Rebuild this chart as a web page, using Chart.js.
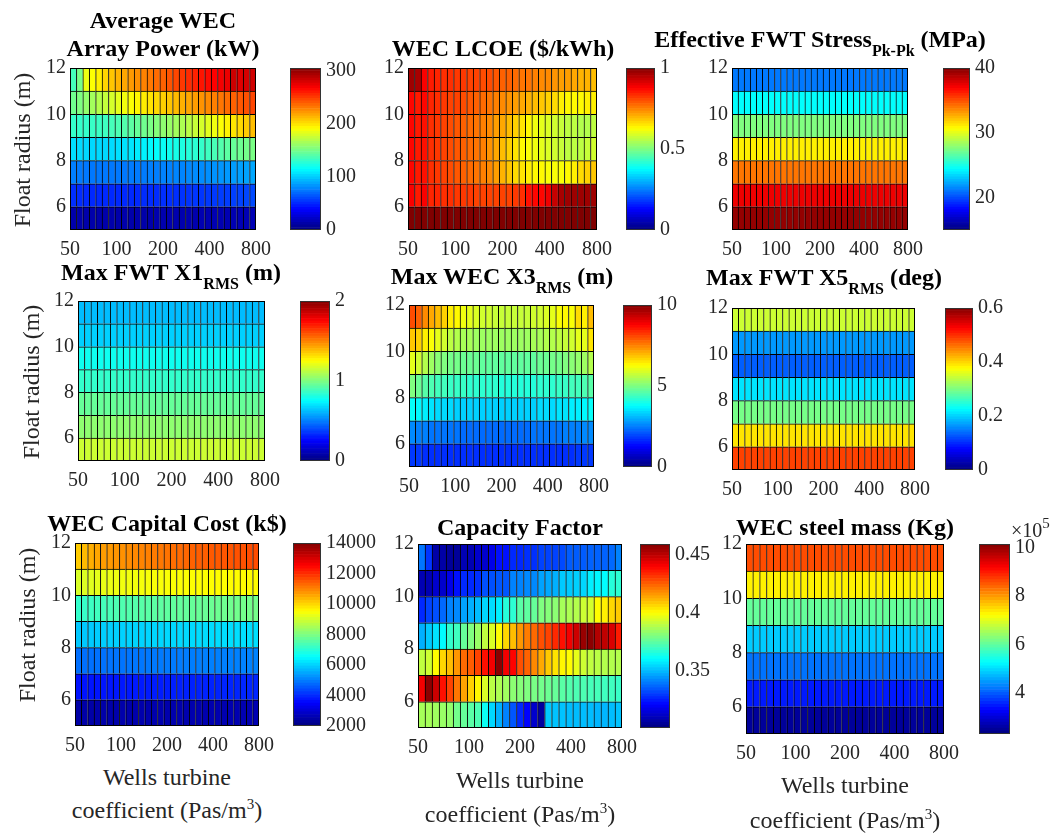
<!DOCTYPE html>
<html>
<head>
<meta charset="utf-8">
<script src="https://cdn.jsdelivr.net/npm/chart.js@4.4.1/dist/chart.umd.min.js"></script>
<style>
  body { margin: 0; background: #fff; }
  #fig { position: relative; width: 1057px; height: 833px; overflow: hidden; font-family: "Liberation Serif", "Times New Roman", serif; }
  .box { position: absolute; }
  .title { position: absolute; transform: translate(-50%, -50%); font-weight: bold; font-size: 24px; line-height: 28px; color: #000; white-space: nowrap; text-align: center; }
  .title .sub { font-size: 16px; position: relative; top: 9px; }
  .ylab { position: absolute; transform: translate(-50%, -50%) rotate(-90deg); font-size: 24px; line-height: 28px; color: #262626; white-space: nowrap; }
  .xlab { position: absolute; transform: translate(-50%, -50%); font-size: 24px; line-height: 28px; color: #262626; white-space: nowrap; }
  .xlab .sup, .expo .sup { font-size: 15px; position: relative; top: -9px; }
  .expo { position: absolute; transform: translateY(-50%); font-size: 20px; color: #262626; white-space: nowrap; }
</style>
</head>
<body>
<div id="fig"></div>
<script>
// cell edges: Wells turbine coefficient (log spaced) and float radius (m)
const coeffEdges = [50, 55.0, 60.5, 66.6, 73.3, 80.6, 88.7, 97.6, 107.4, 118.2, 130.1, 143.1, 157.5, 173.3, 190.7,
    209.8, 230.8, 254.0, 279.5, 307.5, 338.4, 372.3, 409.7, 450.8, 496.0, 545.8, 600.5, 660.8, 727.0, 800];
const radiusEdges = [5, 6, 7, 8, 9, 10, 11, 12];
const coeffTicks = [50, 100, 200, 400, 800];
const radiusTicks = [6, 8, 10, 12];

// rows go from float radius 5-6 m (first) up to 11-12 m (last)
const powerKW = [
    [13, 13, 13, 13, 13, 13, 13, 13, 13, 13, 13, 13, 13, 14, 14, 14, 14, 14, 14, 14, 15, 15, 15, 15, 15, 15, 16, 16, 16],
    [52, 51, 50, 50, 50, 50, 50, 50, 50, 50, 50, 51, 51, 51, 52, 52, 52, 53, 53, 54, 54, 55, 55, 56, 56, 57, 58, 59, 60],
    [76, 75, 74, 74, 74, 74, 74, 74, 74, 75, 75, 75, 76, 76, 77, 77, 78, 78, 79, 80, 80, 81, 82, 83, 84, 85, 86, 87, 88],
    [105, 104, 103, 103, 103, 103, 104, 105, 106, 107, 109, 111, 113, 115, 117, 119, 121, 123, 125, 127, 130, 133, 136, 139, 142, 145, 147, 149, 151],
    [130, 130, 130, 131, 132, 133, 135, 137, 139, 142, 145, 148, 151, 154, 157, 160, 163, 166, 170, 174, 178, 182, 186, 190, 194, 198, 202, 206, 210],
    [148, 152, 158, 163, 168, 173, 178, 183, 187, 190, 193, 196, 199, 202, 205, 208, 211, 214, 217, 220, 223, 226, 229, 232, 235, 238, 241, 243, 246],
    [135, 150, 185, 190, 195, 203, 208, 213, 217, 221, 224, 228, 231, 235, 238, 242, 246, 250, 254, 257, 261, 264, 267, 270, 273, 282, 276, 279, 281]
];
const powerRange = [0, 305];
const powerTicks = [0, 100, 200, 300];

const lcoe = [
    [1, 1, 1, 1, 1, 1, 1, 1, 1, 1, 1, 1, 1, 1, 1, 1, 1, 1, 1, 1, 1, 1, 1, 1, 1, 1, 1, 1, 1],
    [0.88, 0.85, 0.88, 0.84, 0.84, 0.83, 0.83, 0.82, 0.82, 0.82, 0.81, 0.81, 0.81, 0.81, 0.81, 0.81, 0.82, 0.83, 0.86, 0.87, 0.87, 0.89, 0.93, 0.96, 0.97, 0.97, 0.97, 0.97, 0.97],
    [0.87, 0.85, 0.86, 0.83, 0.82, 0.81, 0.80, 0.79, 0.78, 0.77, 0.76, 0.75, 0.74, 0.72, 0.70, 0.68, 0.66, 0.65, 0.64, 0.63, 0.63, 0.62, 0.62, 0.62, 0.63, 0.64, 0.66, 0.67, 0.68],
    [0.87, 0.85, 0.86, 0.83, 0.82, 0.81, 0.80, 0.79, 0.78, 0.77, 0.76, 0.75, 0.73, 0.71, 0.69, 0.67, 0.65, 0.63, 0.62, 0.61, 0.60, 0.59, 0.58, 0.57, 0.56, 0.56, 0.56, 0.57, 0.58],
    [0.87, 0.85, 0.86, 0.83, 0.82, 0.81, 0.80, 0.79, 0.78, 0.77, 0.76, 0.75, 0.74, 0.72, 0.71, 0.69, 0.67, 0.65, 0.63, 0.61, 0.60, 0.59, 0.58, 0.57, 0.56, 0.56, 0.55, 0.55, 0.56],
    [0.87, 0.85, 0.87, 0.84, 0.83, 0.82, 0.81, 0.81, 0.80, 0.79, 0.78, 0.77, 0.76, 0.75, 0.74, 0.73, 0.72, 0.71, 0.70, 0.69, 0.68, 0.67, 0.66, 0.64, 0.63, 0.63, 0.63, 0.64, 0.64],
    [0.97, 0.96, 0.88, 0.85, 0.84, 0.83, 0.83, 0.82, 0.82, 0.81, 0.81, 0.80, 0.80, 0.79, 0.78, 0.78, 0.77, 0.76, 0.76, 0.75, 0.74, 0.74, 0.73, 0.72, 0.72, 0.71, 0.70, 0.70, 0.69]
];
const lcoeRange = [0, 1];
const lcoeTicks = [0, 0.5, 1];

// these quantities do not change with the turbine coefficient: one value per row
const stressRows = [39.5, 37.3, 34, 31, 27.5, 24.4, 21.1];
const stressRange = [15, 40];
const stressTicks = [20, 30, 40];

const x1Rows = [1.15, 1.03, 0.95, 0.85, 0.78, 0.66, 0.62];
const x1Range = [0, 2];
const x1Ticks = [0, 1, 2];

const x3RMS = [
    [1.8, 1.8, 1.7, 1.7, 1.7, 1.7, 1.7, 1.7, 1.7, 1.7, 1.7, 1.7, 1.7, 1.7, 1.7, 1.7, 1.7, 1.7, 1.7, 1.7, 1.7, 1.7, 1.7, 1.7, 1.7, 1.7, 1.8, 1.8, 1.8],
    [2.6, 2.5, 2.5, 2.4, 2.4, 2.4, 2.4, 2.4, 2.3, 2.3, 2.3, 2.3, 2.3, 2.3, 2.3, 2.3, 2.3, 2.3, 2.3, 2.4, 2.4, 2.4, 2.4, 2.4, 2.5, 2.5, 2.5, 2.6, 2.6],
    [3.8, 3.7, 3.6, 3.5, 3.4, 3.4, 3.4, 3.3, 3.3, 3.3, 3.3, 3.3, 3.3, 3.3, 3.3, 3.3, 3.3, 3.3, 3.3, 3.3, 3.4, 3.4, 3.4, 3.5, 3.5, 3.6, 3.6, 3.7, 3.8],
    [5.0, 4.8, 4.6, 4.5, 4.4, 4.4, 4.3, 4.3, 4.3, 4.2, 4.2, 4.2, 4.2, 4.2, 4.1, 4.1, 4.1, 4.1, 4.1, 4.1, 4.2, 4.2, 4.2, 4.3, 4.3, 4.4, 4.4, 4.5, 4.6],
    [6.0, 5.8, 5.5, 5.3, 5.1, 5.0, 4.9, 4.9, 4.8, 4.8, 4.8, 4.7, 4.7, 4.7, 4.7, 4.7, 4.7, 4.7, 4.7, 4.7, 4.8, 4.8, 4.9, 4.9, 5.0, 5.1, 5.2, 5.3, 5.5],
    [6.8, 6.7, 6.4, 6.2, 6.0, 5.8, 5.6, 5.5, 5.4, 5.4, 5.3, 5.3, 5.3, 5.3, 5.3, 5.3, 5.3, 5.3, 5.3, 5.4, 5.4, 5.5, 5.5, 5.6, 5.7, 5.8, 6.0, 6.0, 6.5],
    [8.0, 7.8, 7.4, 7.1, 6.9, 6.7, 6.4, 6.3, 6.1, 6.0, 5.9, 5.8, 5.8, 5.7, 5.7, 5.7, 5.7, 5.7, 5.7, 5.8, 5.8, 5.9, 6.0, 6.2, 6.3, 6.2, 6.6, 6.4, 6.9]
];
const x3Range = [0, 10];
const x3Ticks = [0, 5, 10];

const x5Rows = [0.487, 0.39, 0.295, 0.21, 0.13, 0.165, 0.345];
const x5Range = [0, 0.6];
const x5Ticks = [0, 0.2, 0.4, 0.6];

const capCost = [
    [2450, 2460, 2470, 2480, 2490, 2500, 2500, 2510, 2510, 2520, 2520, 2530, 2530, 2540, 2540, 2540, 2550, 2550, 2550, 2560, 2560, 2560, 2570, 2570, 2570, 2580, 2580, 2580, 2590],
    [3700, 3710, 3720, 3730, 3740, 3750, 3760, 3770, 3780, 3790, 3800, 3810, 3820, 3830, 3840, 3850, 3860, 3870, 3880, 3890, 3900, 3900, 3910, 3910, 3920, 3920, 3930, 3930, 3940],
    [4800, 4810, 4820, 4830, 4840, 4850, 4860, 4870, 4880, 4890, 4900, 4910, 4920, 4930, 4940, 4950, 4960, 4970, 4980, 4990, 5000, 5000, 5010, 5010, 5020, 5020, 5030, 5030, 5040],
    [5850, 5870, 5890, 5910, 5930, 5950, 5960, 5970, 5980, 5990, 6000, 6010, 6020, 6030, 6040, 6050, 6060, 6070, 6080, 6090, 6100, 6100, 6110, 6110, 6120, 6120, 6130, 6130, 6140],
    [7100, 7150, 7200, 7250, 7300, 7350, 7400, 7430, 7460, 7490, 7520, 7550, 7580, 7600, 7620, 7640, 7660, 7680, 7700, 7720, 7740, 7760, 7780, 7800, 7820, 7840, 7850, 7870, 7880],
    [9050, 9100, 9150, 9200, 9250, 9280, 9300, 9330, 9350, 9370, 9390, 9400, 9420, 9430, 9440, 9450, 9460, 9470, 9480, 9490, 9500, 9500, 9510, 9510, 9520, 9520, 9530, 9530, 9540],
    [10100, 10300, 10450, 10550, 10650, 10700, 10750, 10800, 10850, 10900, 10950, 11000, 11050, 11100, 11150, 11200, 11250, 11300, 11350, 11400, 11400, 11450, 11450, 11500, 11500, 11550, 11550, 11600, 11600]
];
const capRange = [2000, 14000];
const capTicks = [2000, 4000, 6000, 8000, 10000, 12000, 14000];

const capFactor = [
    [0.386, 0.386, 0.385, 0.384, 0.383, 0.378, 0.376, 0.374, 0.372, 0.362, 0.354, 0.348, 0.341, 0.334, 0.327, 0.321, 0.313, 0.306, 0.352, 0.351, 0.351, 0.350, 0.350, 0.350, 0.350, 0.349, 0.349, 0.350, 0.351],
    [0.441, 0.457, 0.447, 0.437, 0.429, 0.421, 0.414, 0.407, 0.401, 0.394, 0.389, 0.387, 0.385, 0.382, 0.381, 0.380, 0.379, 0.378, 0.377, 0.376, 0.374, 0.373, 0.372, 0.372, 0.371, 0.371, 0.370, 0.370, 0.369],
    [0.390, 0.392, 0.400, 0.406, 0.410, 0.416, 0.423, 0.425, 0.429, 0.437, 0.441, 0.457, 0.441, 0.439, 0.427, 0.424, 0.418, 0.413, 0.408, 0.404, 0.401, 0.400, 0.396, 0.392, 0.390, 0.389, 0.388, 0.388, 0.388],
    [0.348, 0.352, 0.356, 0.360, 0.368, 0.370, 0.376, 0.380, 0.384, 0.390, 0.394, 0.400, 0.406, 0.410, 0.416, 0.420, 0.423, 0.427, 0.429, 0.433, 0.437, 0.441, 0.447, 0.455, 0.457, 0.451, 0.449, 0.445, 0.435],
    [0.327, 0.331, 0.333, 0.337, 0.341, 0.342, 0.346, 0.348, 0.350, 0.354, 0.355, 0.358, 0.366, 0.367, 0.374, 0.375, 0.376, 0.380, 0.381, 0.382, 0.386, 0.387, 0.388, 0.392, 0.393, 0.400, 0.402, 0.406, 0.408],
    [0.309, 0.309, 0.313, 0.313, 0.317, 0.323, 0.327, 0.327, 0.328, 0.333, 0.333, 0.334, 0.334, 0.341, 0.341, 0.342, 0.342, 0.346, 0.347, 0.348, 0.352, 0.352, 0.353, 0.354, 0.358, 0.359, 0.360, 0.366, 0.367],
    [0.339, 0.329, 0.307, 0.307, 0.305, 0.305, 0.309, 0.309, 0.313, 0.313, 0.317, 0.323, 0.323, 0.327, 0.327, 0.328, 0.328, 0.331, 0.331, 0.331, 0.332, 0.335, 0.335, 0.335, 0.336, 0.336, 0.336, 0.337, 0.341]
];
const cfRange = [0.301, 0.459];
const cfTicks = [0.35, 0.4, 0.45];

const steelRows = [252000, 349000, 418000, 486000, 603000, 731000, 858000];
const steelRange = [232000, 1014000];
const steelTicks = [400000, 600000, 800000, 1000000];

const fig = document.getElementById('fig');
const tickFont = { family: '"Liberation Serif", "Times New Roman", serif', size: 20 };
const axisColor = '#262626';

// repeat a per-row value across all turbine coefficient columns
function fillRows(rows) {
    return rows.map(v => coeffEdges.slice(1).map(() => v));
}

function jet(t) {
    t = Math.min(1, Math.max(0, t));
    const c = x => Math.round(255 * Math.min(1, Math.max(0, x)));
    const r = c(Math.min(4 * t - 1.5, -4 * t + 4.5));
    const g = c(Math.min(4 * t - 0.5, -4 * t + 3.5));
    const b = c(Math.min(4 * t + 0.5, -4 * t + 2.5));
    return `rgb(${r},${g},${b})`;
}

const framePlugin = {
    id: 'frame',
    afterDraw(chart, args, opts) {
        const a = chart.chartArea;
        const ctx = chart.ctx;
        ctx.save();
        ctx.strokeStyle = opts.color || '#000';
        ctx.lineWidth = 1;
        ctx.strokeRect(Math.round(a.left) + 0.5, Math.round(a.top) + 0.5,
            Math.round(a.right - a.left) - 1, Math.round(a.bottom - a.top) - 1);
        ctx.restore();
    }
};

function addCanvas(x, y, w, h) {
    const d = document.createElement('div');
    d.className = 'box';
    d.style.cssText = `left:${x}px;top:${y}px;width:${w}px;height:${h}px`;
    const c = document.createElement('canvas');
    d.appendChild(c);
    fig.appendChild(d);
    return c;
}

function addText(cls, html, x, y) {
    const d = document.createElement('div');
    d.className = cls;
    d.innerHTML = html;
    d.style.left = x + 'px';
    d.style.top = y + 'px';
    fig.appendChild(d);
}

function drawHeatmap(p) {
    const YW = 40, PT = 20, PR = 26, XH = 36;
    const [l, t, r, b] = p.plot;
    const canvas = addCanvas(l - YW, t - PT, (r - l) + YW + PR, (b - t) + PT + XH);
    const datasets = p.values.map((row, ri) => ({
        data: row.map((v, ci) => ({
            x: Math.sqrt(coeffEdges[ci] * coeffEdges[ci + 1]),
            y: [radiusEdges[ri], radiusEdges[ri + 1]]
        })),
        backgroundColor: row.map(v => jet((v - p.range[0]) / (p.range[1] - p.range[0]))),
        borderColor: '#000',
        borderWidth: { left: 1, top: 1, right: 0, bottom: 0 },
        borderSkipped: false,
        barPercentage: 1,
        categoryPercentage: 1,
        grouped: false
    }));
    new Chart(canvas, {
        type: 'bar',
        data: { datasets },
        plugins: [framePlugin],
        options: {
            responsive: true,
            maintainAspectRatio: false,
            animation: false,
            layout: { padding: { left: 0, top: PT, right: PR, bottom: 0 } },
            plugins: { legend: { display: false }, tooltip: { enabled: false }, frame: { color: '#000' } },
            scales: {
                x: {
                    type: 'logarithmic', min: 50, max: 800, offset: false,
                    grid: { display: false, drawTicks: false }, border: { display: false },
                    afterBuildTicks: s => { s.ticks = coeffTicks.map(v => ({ value: v })); },
                    afterFit: s => { s.height = XH; },
                    ticks: { font: tickFont, color: axisColor, padding: 8, maxRotation: 0, autoSkip: false, callback: v => String(v) }
                },
                y: {
                    type: 'linear', min: 5, max: 12,
                    grid: { display: false, drawTicks: false }, border: { display: false },
                    afterBuildTicks: s => { s.ticks = radiusTicks.map(v => ({ value: v })); },
                    afterFit: s => { s.width = YW; },
                    ticks: { font: tickFont, color: axisColor, padding: 4, callback: v => String(v) }
                }
            }
        }
    });
}

function drawColorbar(p) {
    const PT = 20, PB = 20, CW = 70, N = 64;
    const [l, t, r, b] = p.cbar;
    const canvas = addCanvas(l, t - PT, (r - l) + CW, (b - t) + PT + PB);
    const [lo, hi] = p.range;
    const datasets = [];
    for (let k = 0; k < N; k++) {
        datasets.push({
            data: [[lo + (hi - lo) * k / N, lo + (hi - lo) * (k + 1) / N]],
            backgroundColor: jet((k + 0.5) / N),
            borderWidth: 0,
            barPercentage: 1,
            categoryPercentage: 1,
            grouped: false
        });
    }
    new Chart(canvas, {
        type: 'bar',
        data: { labels: [''], datasets },
        plugins: [framePlugin],
        options: {
            responsive: true,
            maintainAspectRatio: false,
            animation: false,
            layout: { padding: { left: 0, top: PT, right: 0, bottom: PB } },
            plugins: { legend: { display: false }, tooltip: { enabled: false }, frame: { color: '#333' } },
            scales: {
                x: { display: false },
                y: {
                    position: 'right', min: lo, max: hi,
                    grid: { display: false, drawTicks: false }, border: { display: false },
                    afterBuildTicks: s => { s.ticks = p.cticks.map(v => ({ value: v })); },
                    afterFit: s => { s.width = CW; },
                    ticks: { font: tickFont, color: axisColor, padding: 5, callback: p.fmt || (v => String(v)) }
                }
            }
        }
    });
}

const panels = [
    { title: 'Average WEC<br>Array Power (kW)', tx: 163, ty: 34, plot: [70, 68, 256, 230], cbar: [290, 68, 321, 230],
      values: powerKW, range: powerRange, cticks: powerTicks },
    { title: 'WEC LCOE ($/kWh)', tx: 503, ty: 48, plot: [408, 68, 597, 230], cbar: [626, 68, 655, 230],
      values: lcoe, range: lcoeRange, cticks: lcoeTicks },
    { title: 'Effective FWT Stress<span class="sub">Pk-Pk</span> (MPa)', tx: 820, ty: 40, plot: [732, 68, 908, 230], cbar: [943, 68, 970, 230],
      values: fillRows(stressRows), range: stressRange, cticks: stressTicks },
    { title: 'Max FWT X1<span class="sub">RMS</span> (m)', tx: 171, ty: 273, plot: [78, 301, 265, 461], cbar: [300, 301, 330, 461],
      values: fillRows(x1Rows), range: x1Range, cticks: x1Ticks },
    { title: 'Max WEC X3<span class="sub">RMS</span> (m)', tx: 502, ty: 277, plot: [409, 305, 594, 467], cbar: [623, 305, 652, 467],
      values: x3RMS, range: x3Range, cticks: x3Ticks },
    { title: 'Max FWT X5<span class="sub">RMS</span> (deg)', tx: 824, ty: 278, plot: [732, 308, 915, 470], cbar: [945, 308, 973, 470],
      values: fillRows(x5Rows), range: x5Range, cticks: x5Ticks },
    { title: 'WEC Capital Cost (k$)', tx: 167, ty: 523, plot: [75, 543, 259, 726], cbar: [293, 543, 321, 726],
      values: capCost, range: capRange, cticks: capTicks },
    { title: 'Capacity Factor', tx: 520, ty: 527, plot: [418, 544, 622, 728], cbar: [640, 544, 670, 728],
      values: capFactor, range: cfRange, cticks: cfTicks },
    { title: 'WEC steel mass (Kg)', tx: 845, ty: 527, plot: [746, 544, 944, 734], cbar: [979, 544, 1010, 734],
      values: fillRows(steelRows), range: steelRange, cticks: steelTicks, fmt: v => String(v / 1e5) }
];

panels.forEach(p => {
    drawHeatmap(p);
    drawColorbar(p);
    addText('title', p.title, p.tx, p.ty);
});

// axis labels
const yLabel = 'Float radius (m)';
[[22, 150], [31, 382], [27, 625]].forEach(([x, y]) => addText('ylab', yLabel, x, y));
const xLabel1 = 'Wells turbine';
const xLabel2 = 'coefficient (Pas/m<span class="sup">3</span>)';
[[167, 777, 811], [520, 780, 815], [845, 785, 821]].forEach(([x, y1, y2]) => {
    addText('xlab', xLabel1, x, y1);
    addText('xlab', xLabel2, x, y2);
});
addText('expo', '&times;10<span class="sup">5</span>', 1011, 530);
</script>
</body>
</html>
